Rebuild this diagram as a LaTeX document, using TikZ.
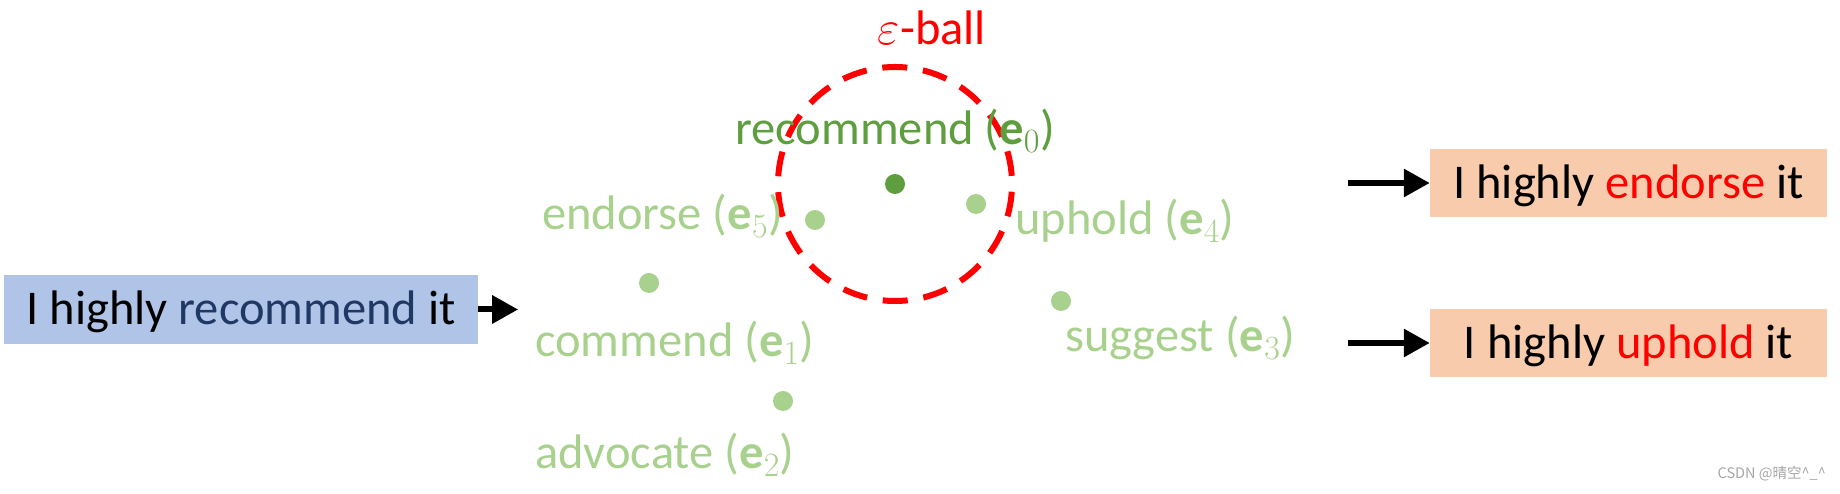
\RequirePackage{fix-cm}
\documentclass[tikz,border=0pt]{standalone}
\usepackage{fontspec}
\setmainfont{Carlito}
\newfontfamily\cjk{Noto Sans CJK SC}
\usetikzlibrary{arrows.meta, positioning}
\usepackage{xcolor}

\definecolor{boxblue}{HTML}{AFC4E6}
\definecolor{boxorange}{HTML}{F8CBAD}
\definecolor{darkblue}{HTML}{203864}
\definecolor{darkgreen}{HTML}{5E9E3E}
\definecolor{lightgreen}{HTML}{A9D18E}
\definecolor{ballred}{HTML}{FF0000}

\begin{document}
\begin{tikzpicture}[
        x=1pt, y=1pt,
        font=\fontsize{48.5}{58}\selectfont,
        % Box styles
        sentbox/.style={rectangle, inner sep=0pt, minimum height=69pt, text height=31pt, text depth=0pt},
        inbox/.style={sentbox, fill=boxblue, minimum width=474pt},
        outbox/.style={sentbox, fill=boxorange, minimum width=397pt, minimum height=68pt},
        nbdot/.style={circle, fill=lightgreen, inner sep=0pt, minimum size=20pt},
        nblabel/.style={inner sep=0pt, text=lightgreen},
        arrow/.style={draw, line width=6pt, -{Triangle[length=26pt, width=27pt]}},
        ball/.style={draw=ballred, line width=6pt, dash pattern=on 25pt off 15.84pt}
    ]
    \useasboundingbox (0,0) rectangle (1840,494);

    % --- EPSILON BALL ---
    \coordinate (ctr) at (895,310);
    \draw [ball] (ctr) ++(84:117) arc[start angle=84, delta angle=360, radius=117];
    \node (balltitle) [inner sep=0pt, anchor=base, text=ballred] at (932,449) {$\varepsilon$-ball};

    % --- NEIGHBOUR WORDS ---
    \node (e0) [nbdot, fill=darkgreen] at (ctr) {};
    \node (e5) [nbdot] at (815,274) {};
    \node (e4) [nbdot] at (976,290) {};
    \node (e1) [nbdot] at (649,211) {};
    \node (e2) [nbdot] at (783,93) {};
    \node (e3) [nbdot] at (1061,193) {};

    \node (l0) [nblabel, text=darkgreen, anchor=base] at (895,349) {recommend ($\mathbf{e}_0$)};
    \node (l5) [nblabel, anchor=base east] at (783,264) {endorse ($\mathbf{e}_5$)};
    \node (l4) [nblabel, anchor=base west] at (1015,259) {uphold ($\mathbf{e}_4$)};
    \node (l1) [nblabel, anchor=base west] at (535,137) {commend ($\mathbf{e}_1$)};
    \node (l2) [nblabel, anchor=base west] at (535,25) {advocate ($\mathbf{e}_2$)};
    \node (l3) [nblabel, anchor=base west] at (1065,142) {suggest ($\mathbf{e}_3$)};

    % --- SENTENCES ---
    \node (src) [inbox] at (241,184.5) {I highly \textcolor{darkblue}{recommend} it};
    \node (out1) [outbox] at (1628.5,311) {I highly \textcolor{ballred}{endorse} it};
    \node (out2) [outbox] at (1628.5,151) {I highly \textcolor{ballred}{uphold} it};

    % --- DRAWING THE ARROWS ---
    \coordinate (srcend) at ([xshift=40pt]src.east);
    \coordinate (in1) at ([xshift=-82pt]out1.west);
    \coordinate (in2) at ([xshift=-82pt]out2.west);
    \draw [arrow] (src) -- (srcend);
    \draw [arrow] (in1) -- (out1);
    \draw [arrow] (in2) -- (out2);

    \node (mark) [inner sep=0pt, anchor=east, text=gray!70, font=\cjk\fontsize{14.5}{17}\selectfont] at (1826,20) {CSDN @晴空\textasciicircum\_\textasciicircum};

\end{tikzpicture}
\end{document}
